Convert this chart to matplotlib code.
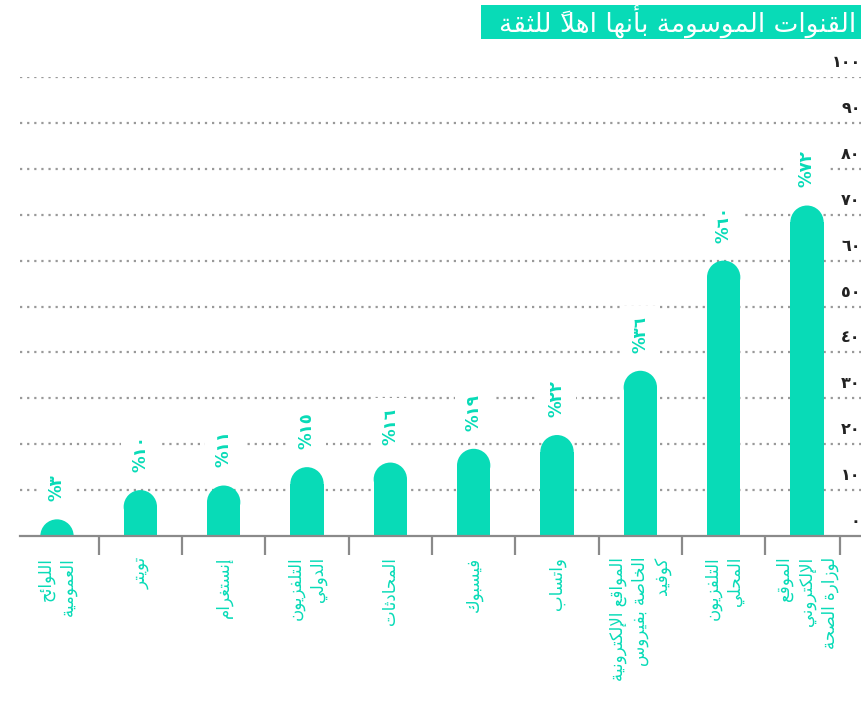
import numpy as np
import matplotlib
matplotlib.use('Agg')
import matplotlib.pyplot as plt
import matplotlib.transforms as mtransforms
from matplotlib.patches import Ellipse, Rectangle

# chart data
title = 'القنوات الموسومة بأنها اهلاً للثقة'
labels = ['اللوائح\nالعمومية', 'تويتر', 'إنستغرام', 'التلفزيون\nالدولي', 'المحادثات',
          'فيسبوك', 'واتساب', 'المواقع الإلكترونية\nالخاصة بفيروس\nكوفيد',
          'التلفزيون\nالمحلي', 'الموقع\nالإلكتروني\nلوزارة الصحة']
values = [3, 10, 11, 15, 16, 19, 22, 36, 60, 72]
y_ticks = [0, 10, 20, 30, 40, 50, 60, 70, 80, 90, 100]

TEAL = '#08dbb7'
GREY = '#8a8a8a'

# --- minimal arabic shaping (matplotlib has no bidi / joining) ---
FORMS = {'آ': 0xFE81, 'أ': 0xFE83, 'ؤ': 0xFE85, 'إ': 0xFE87, 'ئ': 0xFE89, 'ا': 0xFE8D,
         'ب': 0xFE8F, 'ة': 0xFE93, 'ت': 0xFE95, 'ث': 0xFE99, 'ج': 0xFE9D, 'ح': 0xFEA1,
         'خ': 0xFEA5, 'د': 0xFEA9, 'ذ': 0xFEAB, 'ر': 0xFEAD, 'ز': 0xFEAF, 'س': 0xFEB1,
         'ش': 0xFEB5, 'ص': 0xFEB9, 'ض': 0xFEBD, 'ط': 0xFEC1, 'ظ': 0xFEC5, 'ع': 0xFEC9,
         'غ': 0xFECD, 'ف': 0xFED1, 'ق': 0xFED5, 'ك': 0xFED9, 'ل': 0xFEDD, 'م': 0xFEE1,
         'ن': 0xFEE5, 'ه': 0xFEE9, 'و': 0xFEED, 'ى': 0xFEEF, 'ي': 0xFEF1}
DUAL = set('ئبتثجحخسشصضطظعغفقكلمنهي')
LAM_ALEF = {'آ': 0xFEF5, 'أ': 0xFEF7, 'إ': 0xFEF9, 'ا': 0xFEFB}


def shape(text):
    out = []
    for line in text.split('\n'):
        toks = []
        i = 0
        while i < len(line):
            c = line[i]
            if '\u064b' <= c <= '\u0652' and toks:
                toks[-1][2] += c
            elif c == 'ل' and i + 1 < len(line) and line[i + 1] in LAM_ALEF:
                toks.append([c + line[i + 1], 'R', ''])
                i += 1
            elif c in DUAL:
                toks.append([c, 'D', ''])
            elif c in FORMS:
                toks.append([c, 'R', ''])
            else:
                toks.append([c, 'U', ''])
            i += 1
        glyphs = []
        for k, (ch, kind, marks) in enumerate(toks):
            if kind == 'U':
                glyphs.append(ch + marks)
                continue
            prev_j = k > 0 and toks[k - 1][1] == 'D'
            next_j = kind == 'D' and k + 1 < len(toks) and toks[k + 1][1] in 'DR'
            base = LAM_ALEF[ch[1]] if len(ch) == 2 else FORMS[ch]
            if kind == 'D':
                off = 3 if (prev_j and next_j) else 1 if prev_j else 2 if next_j else 0
            else:
                off = 1 if prev_j else 0
            # zero-width mark goes in front so it lands on its own letter
            glyphs.append(marks + chr(base + off))
        out.append(''.join(reversed(glyphs)))
    return '\n'.join(out)


def indic(n):
    return str(n).translate(str.maketrans('0123456789', '٠١٢٣٤٥٦٧٨٩'))


plt.rcParams['font.family'] = ['DejaVu Sans']

fig = plt.figure(figsize=(8.62, 7.02), dpi=100)
ax = fig.add_axes([20 / 862, 166 / 702, 842 / 862, 459 / 702])

x = np.arange(len(values))
ax.set_xlim(-0.444, 9.66)
ax.set_ylim(0, 100)

# rounded bar tops: rectangle + ellipse that looks circular on screen
w = 0.4
px_x = 842 / (9.66 + 0.444)
px_y = 459 / 100
ry = (w * px_x / 2) / px_y
for xi, v in zip(x, values):
    body = max(v - ry, 0)
    ax.bar(xi, body, width=w, color=TEAL, zorder=3, linewidth=0)
    ax.add_patch(Ellipse((xi, body), w, 2 * ry, color=TEAL, zorder=3, lw=0))
    ax.annotate('%' + indic(v), xy=(xi, max(v, ry)), xytext=(0, 13), textcoords='offset points',
                rotation=90, ha='center', va='bottom', color=TEAL, fontsize=12,
                fontweight='bold', zorder=4,
                bbox=dict(boxstyle='square,pad=0.6', fc='white', ec='none'))

# grid
ax.set_yticks(y_ticks[1:])
ax.tick_params(axis='y', length=0, labelleft=False)
ax.grid(axis='y', color='#999999', linestyle=(0, (1, 2.2)), linewidth=1.6, zorder=1)

trans = mtransforms.blended_transform_factory(ax.transAxes, ax.transData)
for t in y_ticks:
    ax.annotate(indic(t), xy=(1.0, t), xycoords=trans, xytext=(-1, 5),
                textcoords='offset points', ha='right', va='bottom',
                fontsize=11.5, fontweight='bold', color='#222222', zorder=5)

for s in ['left', 'right', 'top']:
    ax.spines[s].set_visible(False)
ax.spines['bottom'].set_color(GREY)
ax.spines['bottom'].set_linewidth(1.6)
ax.spines['bottom'].set_zorder(6)

ax.set_xticks(x)
ax.set_xticklabels([shape(l) for l in labels], rotation=90, ha='center', va='top',
                   color=TEAL, fontsize=12, linespacing=1.3)
for lab in ax.get_xticklabels():
    lab.set_multialignment('right')
ax.tick_params(axis='x', which='major', length=0, pad=15)
ax.set_xticks(list(np.arange(0.5, 9, 1.0)) + [9.4], minor=True)
ax.tick_params(axis='x', which='minor', length=14, width=1.6, color=GREY)

# title band
fig.patches.append(Rectangle((481 / 862, 1 - 39 / 702), 381 / 862, 34 / 702,
                             transform=fig.transFigure, fc=TEAL, ec='none', zorder=0))
fig.text(856 / 862, 1 - 22 / 702, shape(title), ha='right', va='center',
         color='white', fontsize=19)

fig.savefig('out.png', dpi=100)
